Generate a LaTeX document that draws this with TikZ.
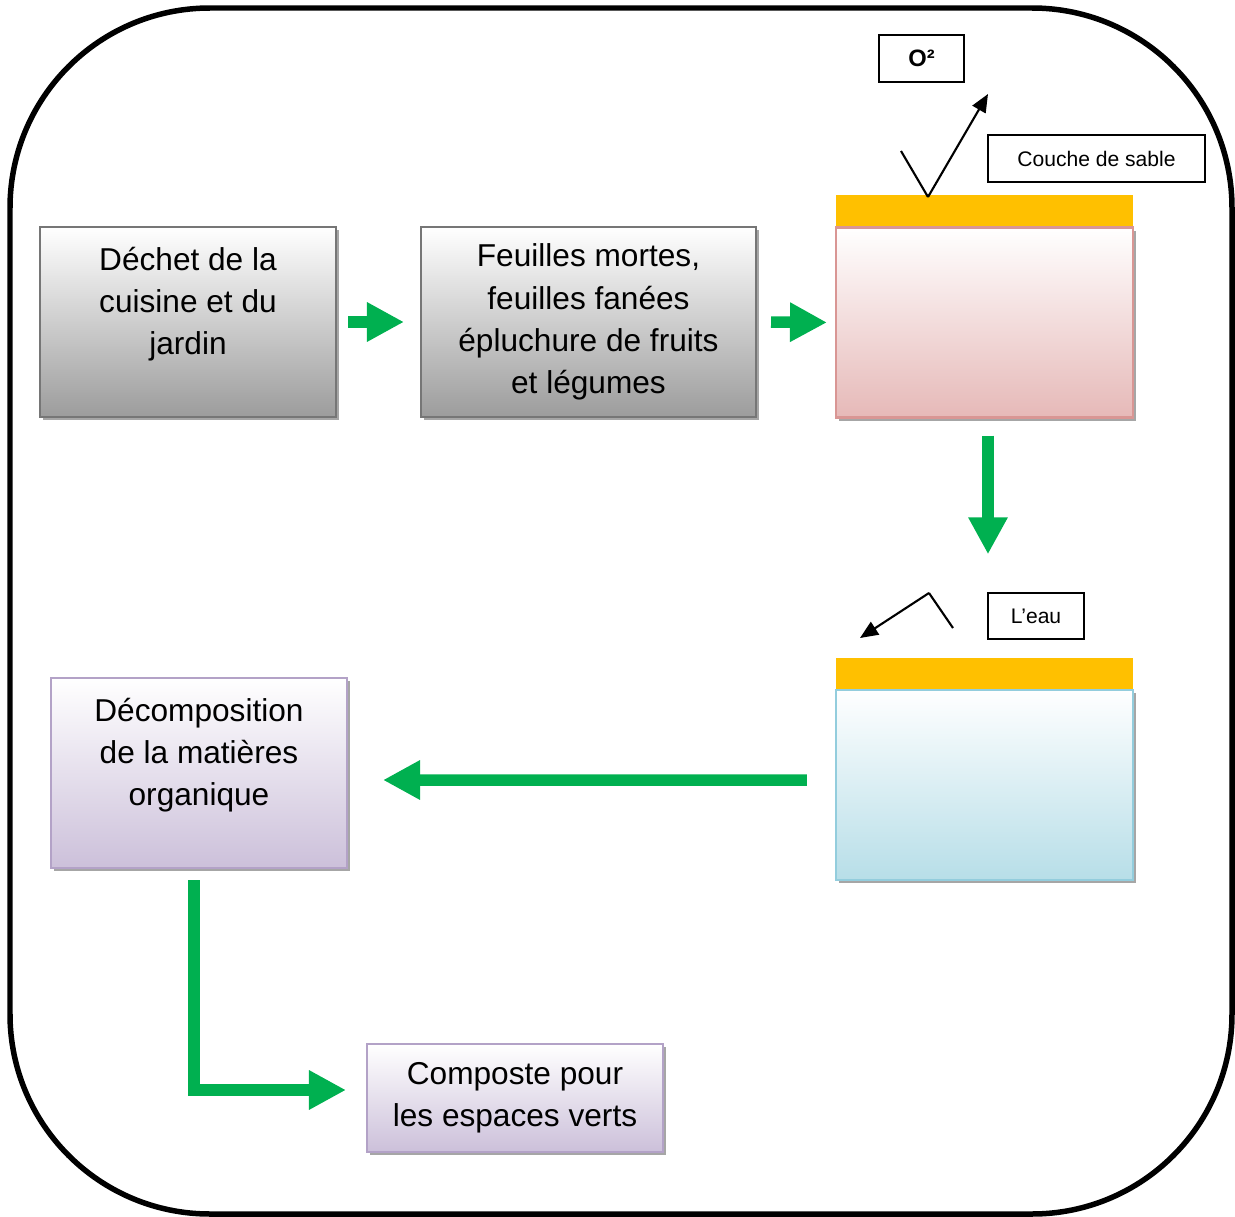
\documentclass[tikz,border=0pt]{standalone}
\usepackage{fontspec}
\setmainfont{Liberation Sans}
\definecolor{vertfleche}{RGB}{0,176,80}
\definecolor{jaunesable}{RGB}{255,192,0}
\definecolor{grisbord}{RGB}{118,118,118}
\definecolor{grisfond}{RGB}{156,156,156}
\definecolor{rosebord}{RGB}{217,150,148}
\definecolor{rosefond}{RGB}{230,185,184}
\definecolor{bleubord}{RGB}{147,205,221}
\definecolor{bleufond}{RGB}{183,222,232}
\definecolor{violetbord}{RGB}{179,162,199}
\definecolor{violetfond}{RGB}{204,192,218}
\usepackage{tikz}
\usetikzlibrary{arrows.meta, positioning, calc, shadows}

\begin{document}
\begin{tikzpicture}[x=0.02cm, y=-0.02cm,
  boite/.style={draw, line width=1.2pt, align=center, inner sep=0pt,
    minimum width=5.92cm, minimum height=3.8cm,
    font=\fontsize{18}{24}\selectfont,
    drop shadow={shadow xshift=1.8pt, shadow yshift=-1.8pt, fill=black, opacity=0.35}},
  boitegris/.style={boite, draw=grisbord, top color=white, bottom color=grisfond},
  boiterose/.style={boite, draw=rosebord, top color=white, bottom color=rosefond},
  boitebleu/.style={boite, draw=bleubord, top color=white, bottom color=bleufond},
  boiteviolet/.style={boite, draw=violetbord, top color=white, bottom color=violetfond},
  sable/.style={fill=jaunesable, inner sep=0pt, minimum width=5.94cm, minimum height=0.62cm},
  etiquette/.style={draw, line width=0.9pt, inner sep=0pt, minimum height=0.94cm,
    font=\fontsize{12}{14}\selectfont},
  fleche verte/.style={draw=vertfleche, line width=0.23cm,
    -{Triangle[length=0.74cm, width=0.74cm]}},
  fleche noire/.style={line width=1.2pt, -{Triangle[length=0.36cm, width=0.3cm]}}
  ]
  \useasboundingbox (0,0) rectangle (1235,1217);

  % cadre
  \draw[line width=0.11cm, rounded corners=4cm] (10,8) rectangle (1232,1214);

  % premiere ligne
  \node[boitegris] (dechet) at (188,322) {D\'echet de la\\cuisine et du\\jardin\\~};
  \node[boitegris, minimum width=6.7cm] (feuilles) at (588.5,322)
    {Feuilles mortes,\\feuilles fan\'ees\\\'epluchure de fruits\\et l\'egumes};
  \node[boiterose, minimum width=5.94cm] (bac1) at (984.5,322.5) {};
  \node[sable, above=0pt of bac1] (sable1) {};

  % etiquettes du haut
  \node[etiquette, minimum width=1.7cm, font=\fontsize{13.5}{15}\selectfont\bfseries] (o2) at (921.5,58.5) {O²};
  \node[etiquette, minimum width=4.34cm] (couche) at (1096.5,158.5) {Couche de sable\hspace{0.3cm}};
  \coordinate (o2g) at (901,151);
  \coordinate (o2v) at (928,197);
  \coordinate (o2f) at (988,94);
  \draw[line width=1.2pt] (o2g) -- (o2v);
  \draw[fleche noire] (o2v) -- (o2f);

  % deuxieme bac
  \node[boitebleu, minimum width=5.94cm] (bac2) at (984.5,785) {};
  \node[sable, above=0pt of bac2] (sable2) {};
  \node[etiquette, minimum width=1.92cm, minimum height=0.92cm] (eau) at (1036,616) {L’eau};
  \coordinate (eaud) at (953,628);
  \coordinate (eauv) at (929,593);
  \coordinate (eauf) at (860,638);
  \draw[line width=1.2pt] (eaud) -- (eauv);
  \draw[fleche noire] (eauv) -- (eauf);

  % bas
  \node[boiteviolet] (decompo) at (199,773) {D\'ecomposition\\de la mati\`eres\\organique\\~};
  \node[boiteviolet, minimum height=2.16cm] (composte) at (515,1098) {Composte pour\\les espaces verts};

  % fleches vertes
  \draw[fleche verte, shorten <=0.22cm, shorten >=0.32cm] (dechet.east) -- (feuilles.west);
  \draw[fleche verte, shorten <=0.28cm, shorten >=0.16cm] (feuilles.east) -- (bac1.west);
  \draw[fleche verte, shorten <=0.34cm, shorten >=2.06cm] ([xshift=0.07cm]bac1.south) -- ([xshift=0.07cm]sable2.north);
  \draw[fleche verte, shorten <=0.56cm, shorten >=0.7cm] ([yshift=0.1cm]bac2.west) -- ([yshift=-0.14cm]decompo.east);
  \draw[fleche verte, shorten <=0.22cm, shorten >=0.4cm] ([xshift=-0.1cm]decompo.south) |- ([yshift=0.16cm]composte.west);
\end{tikzpicture}
\end{document}
